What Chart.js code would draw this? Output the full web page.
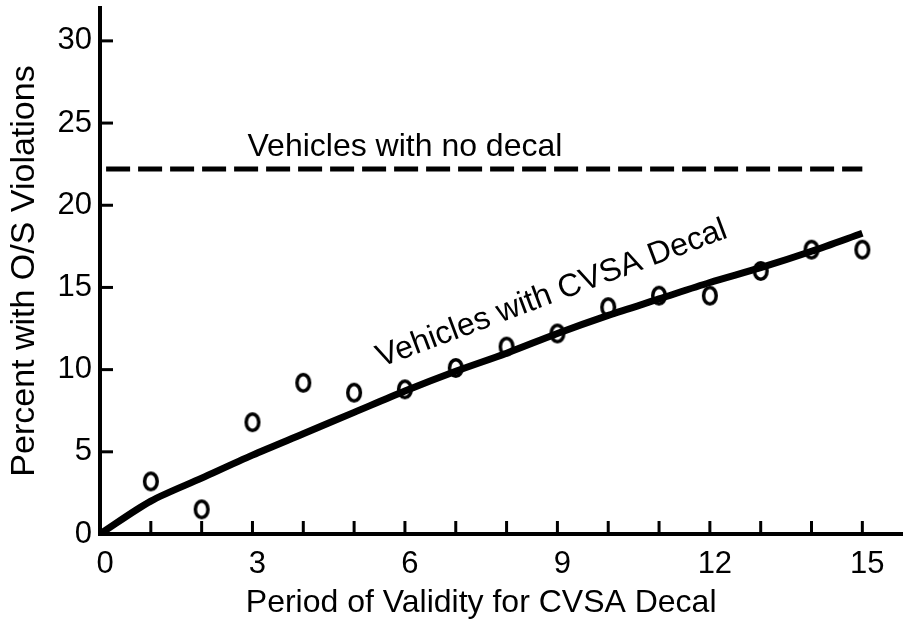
<!DOCTYPE html>
<html>
<head>
<meta charset="utf-8">
<script src="https://cdn.jsdelivr.net/npm/chart.js@4.4.1/dist/chart.umd.min.js"></script>
<style>
  html, body { margin: 0; padding: 0; background: #fff; }
  #wrap { width: 903px; height: 624px; position: relative; }
</style>
</head>
<body>
<div id="wrap"><canvas id="c" width="903" height="624"></canvas></div>
<script>
// ---- data ----
const periods = [0, 1, 2, 3, 4, 5, 6, 7, 8, 9, 10, 11, 12, 13, 14, 15];
const observedX = [1, 2, 3, 4, 5, 6, 7, 8, 9, 10, 11, 12, 13, 14, 15];
const observedPct = [3.2, 1.5, 6.8, 9.2, 8.6, 8.8, 10.1, 11.4, 12.2, 13.8, 14.5, 14.5, 16.0, 17.3, 17.3];
const fittedPct = [0, 2.0, 3.4, 4.8, 6.1, 7.4, 8.7, 9.9, 11.0, 12.2, 13.3, 14.3, 15.3, 16.2, 17.2, 18.3];
const noDecalX = [0.12, 15];
const noDecalPct = [22.2, 22.2];
const xTickLabels = [0, 3, 6, 9, 12, 15];
const yTickLabels = [0, 5, 10, 15, 20, 25, 30];
const xMinorTicks = [1, 2, 3, 4, 5, 6, 7, 8, 9, 10, 11, 12, 13, 14, 15];
const yMinorTicks = [5, 10, 15, 20, 25, 30];
const xTitle = 'Period of Validity for CVSA Decal';
const yTitle = 'Percent with O/S Violations';
const noDecalLabel = 'Vehicles with no decal';
const decalLabel = 'Vehicles with CVSA Decal';

const FONT = '"Liberation Sans", Arial, Helvetica, sans-serif';

// ellipse point marker
const pt = document.createElement('canvas');
pt.width = 18; pt.height = 22;
(function () {
  const g = pt.getContext('2d');
  g.lineWidth = 3.5;
  g.strokeStyle = '#000';
  g.beginPath();
  g.ellipse(9, 11, 6.3, 8.3, 0, 0, Math.PI * 2);
  g.stroke();
})();

const innerTicks = {
  id: 'innerTicks',
  afterDraw(chart) {
    const { ctx, scales: { x, y } } = chart;
    ctx.save();
    ctx.strokeStyle = '#000';
    ctx.lineWidth = 3;
    xMinorTicks.forEach(v => {
      const px = x.getPixelForValue(v);
      ctx.beginPath();
      ctx.moveTo(px, y.getPixelForValue(0));
      ctx.lineTo(px, y.getPixelForValue(0) - 13);
      ctx.stroke();
    });
    yMinorTicks.forEach(v => {
      const py = y.getPixelForValue(v);
      ctx.beginPath();
      ctx.moveTo(x.getPixelForValue(0), py);
      ctx.lineTo(x.getPixelForValue(0) + 13, py);
      ctx.stroke();
    });
    ctx.restore();
  }
};

const annotations = {
  id: 'annotations',
  afterDraw(chart) {
    const { ctx, scales: { x, y } } = chart;
    const items = [
      { text: noDecalLabel, x: 6.0, y: 23.0, angle: 0 },
      { text: decalLabel, x: 8.95, y: 14.1, angle: -20.5 }
    ];
    ctx.save();
    ctx.fillStyle = '#000';
    ctx.font = '32px ' + FONT;
    ctx.textAlign = 'center';
    ctx.textBaseline = 'alphabetic';
    items.forEach(l => {
      ctx.save();
      ctx.translate(x.getPixelForValue(l.x), y.getPixelForValue(l.y));
      ctx.rotate(l.angle * Math.PI / 180);
      ctx.fillText(l.text, 0, 0);
      ctx.restore();
    });
    // x-axis title (placed slightly left of the axis centre as in the original)
    ctx.textBaseline = 'middle';
    ctx.fillText(xTitle, x.getPixelForValue(7.5), x.bottom - 21);
    ctx.restore();
  }
};

function noPad(s) {
  s.paddingTop = 0; s.paddingBottom = 0; s.paddingLeft = 0; s.paddingRight = 0;
}

new Chart(document.getElementById('c'), {
  type: 'scatter',
  data: {
    datasets: [
      {
        label: noDecalLabel,
        type: 'line',
        data: noDecalX.map((v, i) => ({ x: v, y: noDecalPct[i] })),
        borderColor: '#000',
        borderWidth: 5,
        borderDash: [24, 8],
        pointRadius: 0,
        fill: false
      },
      {
        label: decalLabel,
        type: 'line',
        data: periods.map((v, i) => ({ x: v, y: fittedPct[i] })),
        borderColor: '#000',
        borderWidth: 7,
        tension: 0.3,
        pointRadius: 0,
        fill: false
      },
      {
        label: 'Observed',
        data: observedX.map((v, i) => ({ x: v, y: observedPct[i] })),
        pointStyle: pt,
        pointRadius: 9,
        borderColor: '#000'
      }
    ]
  },
  options: {
    responsive: false,
    animation: false,
    devicePixelRatio: 1,
    layout: { autoPadding: false, padding: { top: 8, right: 0, left: 0, bottom: 0 } },
    plugins: { legend: { display: false }, tooltip: { enabled: false } },
    scales: {
      x: {
        type: 'linear',
        min: 0,
        max: 15.8,
        grid: { display: false, drawTicks: false },
        border: { display: true, color: '#000', width: 4 },
        afterFit(s) { s.height = 90; noPad(s); },
        afterBuildTicks(s) { s.ticks = xTickLabels.map(v => ({ value: v })); },
        ticks: {
          color: '#000',
          font: { family: FONT, size: 31 },
          padding: 12,
          labelOffset: 5,
          maxRotation: 0,
          autoSkip: false
        },
        title: { display: false, text: xTitle }
      },
      y: {
        type: 'linear',
        min: 0,
        max: 32,
        grid: { display: false, drawTicks: false },
        border: { display: true, color: '#000', width: 4 },
        afterFit(s) { s.width = 100; noPad(s); },
        afterBuildTicks(s) { s.ticks = yTickLabels.map(v => ({ value: v })); },
        ticks: {
          color: '#000',
          font: { family: FONT, size: 31 },
          padding: 8,
          autoSkip: false
        },
        title: {
          display: true,
          text: yTitle,
          color: '#000',
          font: { family: FONT, size: 34 },
          padding: { top: 4, bottom: 0 }
        }
      }
    }
  },
  plugins: [innerTicks, annotations]
});
</script>
</body>
</html>
